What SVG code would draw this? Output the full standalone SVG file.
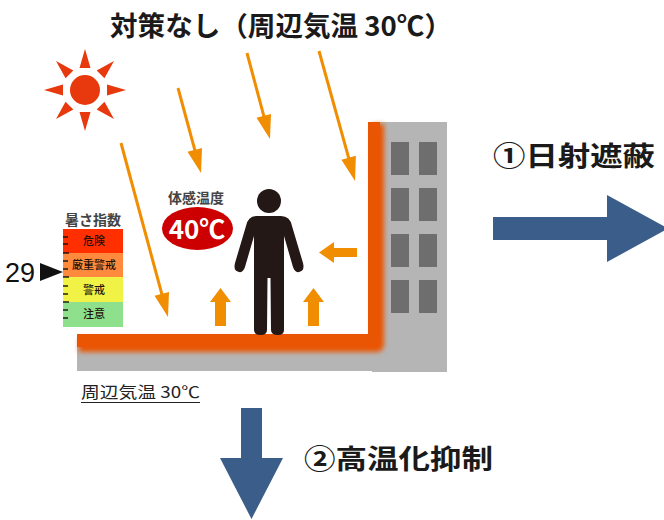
<svg xmlns="http://www.w3.org/2000/svg" width="664" height="520" viewBox="0 0 664 520">
  <style>
    .jp { font-family: "Noto Sans CJK JP", "Noto Sans", sans-serif; }
    .title { font-size: 27px; font-weight: bold; fill: #1a1a1a; }
    .label { font-size: 14px; font-weight: bold; fill: #444444; }
    .idx { font-size: 11px; fill: #1e120a; text-anchor: middle; font-weight: 500; }
    .ray { stroke: #f18d00; stroke-width: 3; fill: none; marker-end: url(#ah); }
    .heat { fill: #f18d00; }
    .blue { fill: #3a5d8a; }
    .win { fill: #6e6e6e; }
    .tick { stroke: #111111; stroke-width: 1.4; }
  </style>
  <defs>
    <marker id="ah" markerUnits="userSpaceOnUse" markerWidth="24" markerHeight="15" refX="4" refY="7.5" orient="auto" overflow="visible">
      <path d="M0,0 L24,7.5 L0,15 Z" fill="#f18d00"/>
    </marker>
    <filter id="soft" x="-20%" y="-20%" width="140%" height="140%">
      <feGaussianBlur stdDeviation="2.5"/>
    </filter>
    <path id="sunray" d="M85,49 L79.5,68 L90.5,68 Z"/>
  </defs>

  <rect width="664" height="520" fill="#ffffff"/>

  <!-- title -->
  <text class="jp title" x="110" y="36" textLength="342" lengthAdjust="spacingAndGlyphs">対策なし（周辺気温 30℃）</text>

  <!-- sun -->
  <g id="sun" fill="#e8380d">
    <circle cx="85" cy="90" r="15"/>
    <use href="#sunray"/>
    <use href="#sunray" transform="rotate(45 85 90)"/>
    <use href="#sunray" transform="rotate(90 85 90)"/>
    <use href="#sunray" transform="rotate(135 85 90)"/>
    <use href="#sunray" transform="rotate(180 85 90)"/>
    <use href="#sunray" transform="rotate(225 85 90)"/>
    <use href="#sunray" transform="rotate(270 85 90)"/>
    <use href="#sunray" transform="rotate(315 85 90)"/>
  </g>

  <!-- ground and building -->
  <g id="building">
    <rect x="372" y="122" width="75" height="250" fill="#b5b5b5"/>
    <rect x="77" y="340" width="370" height="31" fill="#b5b5b5"/>
    <rect class="win" x="391" y="142" width="18" height="33"/>
    <rect class="win" x="419" y="142" width="18" height="33"/>
    <rect class="win" x="391" y="188" width="18" height="33"/>
    <rect class="win" x="419" y="188" width="18" height="33"/>
    <rect class="win" x="391" y="234" width="18" height="33"/>
    <rect class="win" x="419" y="234" width="18" height="33"/>
    <rect class="win" x="391" y="280" width="18" height="33"/>
    <rect class="win" x="419" y="280" width="18" height="33"/>
  </g>

  <!-- heated surfaces -->
  <g id="hot-surface">
    <path d="M370,122 H382 V342 Q382,350 374,350 H77 V336 H370 Z" fill="#ea5504" filter="url(#soft)" transform="translate(2 2)"/>
    <path d="M368,122 H380 V340 Q380,347 373,347 H77 V334 H368 Z" fill="#ea5504"/>
  </g>

  <!-- solar radiation -->
  <g id="connectors">
    <line class="ray" x1="178" y1="88" x2="195.8" y2="153.7"/>
    <line class="ray" x1="247" y1="53" x2="264.8" y2="119.7"/>
    <line class="ray" x1="319" y1="51" x2="349.7" y2="161.7"/>
    <line class="ray" x1="121" y1="143" x2="162.8" y2="297.7"/>
  </g>

  <!-- heat from surfaces -->
  <g id="heat-arrows">
    <polygon class="heat" points="220.5,288 231,302 226,302 226,326 215,326 215,302 210,302"/>
    <polygon class="heat" points="313.5,288 324,302 319,302 319,326 308,326 308,302 303,302"/>
    <polygon class="heat" points="319,252.5 334,242 334,248 357,248 357,257 334,257 334,263"/>
  </g>

  <!-- person -->
  <g id="person" fill="#231815">
    <circle cx="269" cy="201" r="12"/>
    <path d="M257,216 L281,216 Q290,216 292,226 L303,263 Q305,271 299,272 Q295,273 293,267 L284,236 L284,330 Q284,335 278,335 Q271,335 271,330 L270.5,278 L267.5,278 L267,330 Q267,335 260.5,335 Q254,335 254,330 L254,236 L245,267 Q243,273 239,272 Q233,271 235,263 L246,226 Q248,216 257,216 Z"/>
  </g>

  <!-- felt temperature -->
  <g id="felt-temp">
    <text class="jp label" x="196" y="203" text-anchor="middle" font-size="15">体感温度</text>
    <ellipse cx="197.5" cy="228.5" rx="35.5" ry="21.5" fill="#cc0000"/>
    <text class="jp" x="197" y="238.5" text-anchor="middle" font-size="26" font-weight="bold" fill="#ffffff">40℃</text>
  </g>

  <!-- heat index scale -->
  <g id="heat-index">
    <text class="jp label" x="93" y="225" text-anchor="middle" font-size="14">暑さ指数</text>
    <rect x="63" y="229" width="60" height="24" fill="#ff2f00"/>
    <rect x="63" y="253" width="60" height="24" fill="#ff8a3d"/>
    <rect x="63" y="277" width="60" height="25" fill="#f0f345"/>
    <rect x="63" y="302" width="60" height="25" fill="#8fe08c"/>
    <text class="jp idx" x="94" y="245">危険</text>
    <text class="jp idx" x="94" y="269">厳重警戒</text>
    <text class="jp idx" x="94" y="294">警戒</text>
    <text class="jp idx" x="94" y="318">注意</text>
    <g class="tick">
      <line x1="63" y1="237" x2="68" y2="237"/>
      <line x1="63" y1="244" x2="68" y2="244"/>
      <line x1="63" y1="253" x2="69" y2="253"/>
      <line x1="63" y1="261" x2="68" y2="261"/>
      <line x1="63" y1="269" x2="68" y2="269"/>
      <line x1="63" y1="277" x2="69" y2="277"/>
      <line x1="63" y1="286" x2="68" y2="286"/>
      <line x1="63" y1="294" x2="68" y2="294"/>
      <line x1="63" y1="302" x2="69" y2="302"/>
      <line x1="63" y1="310" x2="68" y2="310"/>
      <line x1="63" y1="318" x2="68" y2="318"/>
    </g>
    <text x="5" y="282" font-family="Liberation Sans, Arial, sans-serif" font-size="27" fill="#111111">29</text>
    <polygon points="40,263 63,272 40,281" fill="#111111"/>
  </g>

  <!-- ambient temperature -->
  <g id="ambient">
    <text class="jp" x="81" y="398" font-size="16" fill="#222222" textLength="119" lengthAdjust="spacingAndGlyphs">周辺気温 30℃</text>
    <line x1="81" y1="402.5" x2="200" y2="402.5" stroke="#222222" stroke-width="1"/>
  </g>

  <!-- measure 1 -->
  <g id="measure-shade">
    <text class="jp title" x="493" y="166" font-size="28" textLength="162" lengthAdjust="spacingAndGlyphs">①日射遮蔽</text>
    <polygon class="blue" points="493,217 607,217 607,195 668,228.5 607,262 607,240 493,240"/>
  </g>

  <!-- measure 2 -->
  <g id="measure-cool">
    <polygon class="blue" points="241,408 262,408 262,458 283,458 251.5,519 220,458 241,458"/>
    <text class="jp title" x="304" y="469" font-size="29" textLength="189" lengthAdjust="spacingAndGlyphs">②高温化抑制</text>
  </g>
</svg>
